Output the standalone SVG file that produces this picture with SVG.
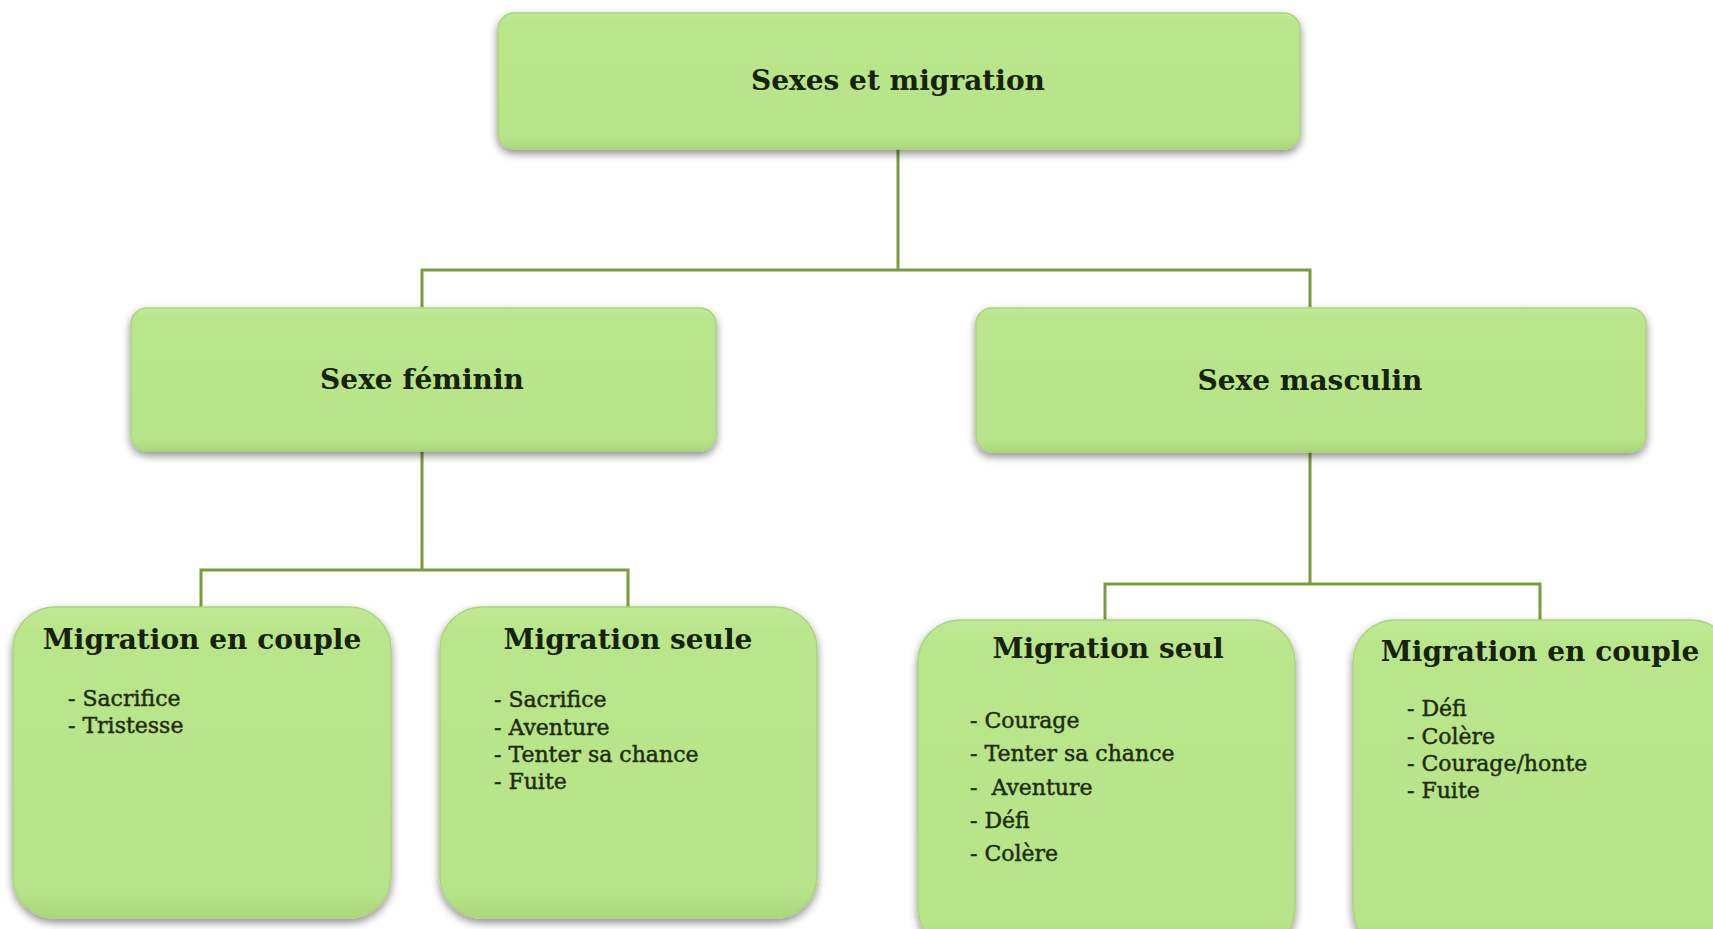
<svg xmlns="http://www.w3.org/2000/svg" width="1713" height="929" viewBox="0 0 1713 929">
  <style>
    .box { fill: url(#boxFill); stroke: #a9d47c; stroke-width: 1.5; filter: url(#shadow); }
    .link { fill: none; stroke: #7d9a3c; stroke-width: 3; }
    .head { font-family: "DejaVu Serif", "Liberation Serif", serif; font-weight: bold; fill: #17220d; text-anchor: middle; }
    .item { font-family: "DejaVu Serif", "Liberation Serif", serif; fill: #1e2c12; stroke: #1e2c12; stroke-width: 0.45; font-size: 22px; }
  </style>
  <defs>
    <linearGradient id="boxFill" x1="0" y1="0" x2="0" y2="1">
      <stop offset="0" stop-color="#c0e996"/>
      <stop offset="0.08" stop-color="#b9e68a"/>
      <stop offset="0.92" stop-color="#b7e488"/>
      <stop offset="1" stop-color="#a9d77a"/>
    </linearGradient>
    <filter id="shadow" x="-10%" y="-10%" width="120%" height="130%">
      <feGaussianBlur in="SourceAlpha" stdDeviation="4"/>
      <feOffset dx="0" dy="4" result="blur"/>
      <feComponentTransfer><feFuncA type="linear" slope="0.45"/></feComponentTransfer>
      <feMerge><feMergeNode/><feMergeNode in="SourceGraphic"/></feMerge>
    </filter>
  </defs>
  <rect width="1713" height="929" fill="#ffffff"/>

  <!-- tree connectors -->
  <g id="connectors">
    <path class="link" d="M898 149 V270 M422 307 V270 H1310 V307"/>
    <path class="link" d="M422 451 V570 M201 607 V570 H628 V607"/>
    <path class="link" d="M1310 452 V584 M1105 620 V584 H1540 V620"/>
  </g>

  <g id="root">
    <rect class="box" x="498" y="13" width="802" height="136" rx="16"/>
    <text class="head" x="898" y="90" font-size="28">Sexes et migration</text>
  </g>

  <g id="feminin">
    <rect class="box" x="131" y="308" width="585" height="143" rx="16"/>
    <text class="head" x="422" y="389" font-size="28">Sexe féminin</text>
  </g>

  <g id="masculin">
    <rect class="box" x="976" y="308" width="670" height="144" rx="16"/>
    <text class="head" x="1310" y="390" font-size="28">Sexe masculin</text>
  </g>

  <g id="f-couple">
    <rect class="box" x="13" y="607" width="378" height="311" rx="42"/>
    <text class="head" x="202" y="649" font-size="28">Migration en couple</text>
    <text class="item" x="68" y="706">- Sacrifice</text>
    <text class="item" x="68" y="733">- Tristesse</text>
  </g>

  <g id="f-seule">
    <rect class="box" x="440" y="607" width="377" height="311" rx="42"/>
    <text class="head" x="628" y="649" font-size="28">Migration seule</text>
    <text class="item" x="494" y="707">- Sacrifice</text>
    <text class="item" x="494" y="735">- Aventure</text>
    <text class="item" x="494" y="762">- Tenter sa chance</text>
    <text class="item" x="494" y="789">- Fuite</text>
  </g>

  <g id="m-seul">
    <rect class="box" x="918" y="620" width="377" height="330" rx="42"/>
    <text class="head" x="1108" y="658" font-size="28">Migration seul</text>
    <text class="item" x="970" y="728">- Courage</text>
    <text class="item" x="970" y="761">- Tenter sa chance</text>
    <text class="item" x="970" y="795" xml:space="preserve">-  Aventure</text>
    <text class="item" x="970" y="828">- Défi</text>
    <text class="item" x="970" y="861">- Colère</text>
  </g>

  <g id="m-couple">
    <rect class="box" x="1353" y="620" width="380" height="330" rx="42"/>
    <text class="head" x="1540" y="661" font-size="28">Migration en couple</text>
    <text class="item" x="1407" y="716">- Défi</text>
    <text class="item" x="1407" y="744">- Colère</text>
    <text class="item" x="1407" y="771">- Courage/honte</text>
    <text class="item" x="1407" y="798">- Fuite</text>
  </g>
</svg>
